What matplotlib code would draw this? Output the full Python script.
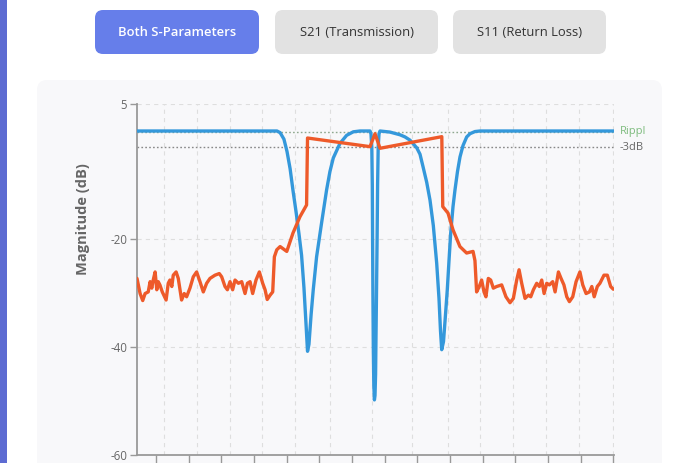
import matplotlib
matplotlib.use("Agg")
import matplotlib.pyplot as plt
from matplotlib.patches import FancyBboxPatch, Rectangle

plt.rcParams['font.family'] = ['Open Sans', 'DejaVu Sans']
plt.rcParams['lines.scale_dashes'] = False

# ---------------- data ----------------
s21_freq = [1.000, 1.013, 1.024, 1.034, 1.047, 1.055, 1.062, 1.068, 1.076, 1.083,
            1.089, 1.096, 1.106, 1.122, 1.131, 1.138, 1.146, 1.152, 1.164, 1.173,
            1.187, 1.198, 1.208, 1.222, 1.236, 1.250, 1.264, 1.278, 1.292, 1.306,
            1.327, 1.345, 1.355, 1.369, 1.379, 1.390, 1.401, 1.411, 1.425, 1.439,
            1.453, 1.463, 1.474, 1.485, 1.499, 1.513, 1.527, 1.537, 1.546, 1.558,
            1.569, 1.576, 1.586, 1.600, 1.628, 1.654, 1.683, 1.711, 1.715, 1.977,
            1.998, 2.019, 2.278, 2.282, 2.304, 2.325, 2.354, 2.382, 2.409, 2.417,
            2.424, 2.435, 2.445, 2.455, 2.463, 2.473, 2.483, 2.494, 2.508, 2.529,
            2.547, 2.564, 2.578, 2.592, 2.602, 2.613, 2.627, 2.641, 2.651, 2.662,
            2.676, 2.687, 2.697, 2.707, 2.718, 2.729, 2.743, 2.753, 2.767, 2.778,
            2.790, 2.802, 2.813, 2.827, 2.841, 2.857, 2.869, 2.883, 2.897, 2.907,
            2.917, 2.930, 2.941, 2.958, 2.972, 2.986, 2.997]
s21_db = [-27.3, -30.1, -31.4, -30.1, -29.8, -27.9, -29.1, -27.6, -26.1, -29.4,
          -27.9, -28.5, -29.8, -31.3, -28.2, -27.6, -28.8, -26.7, -26.1, -27.3,
          -31.3, -30.1, -30.7, -29.1, -27.0, -26.1, -27.9, -29.8, -28.2, -27.3,
          -26.7, -26.4, -27.0, -28.8, -29.4, -27.9, -29.4, -27.6, -28.2, -27.9,
          -30.1, -28.2, -27.9, -30.1, -27.6, -26.1, -28.2, -29.4, -31.2, -30.4,
          -29.8, -23.3, -22.0, -21.4, -22.3, -18.9, -15.9, -13.7, -1.3, -2.9,
          -0.5, -3.2, -1.05, -14.0, -15.2, -18.3, -21.4, -22.6, -22.3, -24.0,
          -29.8, -28.8, -27.6, -29.8, -30.7, -27.3, -27.6, -29.1, -28.8, -28.5,
          -30.7, -31.8, -31.0, -27.6, -25.7, -28.2, -31.0, -30.4, -30.7, -29.4,
          -28.2, -28.8, -27.6, -30.1, -28.2, -28.5, -27.9, -29.8, -26.1, -27.3,
          -28.5, -30.7, -31.6, -30.7, -27.9, -26.1, -28.5, -30.1, -29.8, -28.8,
          -30.7, -28.8, -28.2, -26.7, -26.7, -28.8, -29.3]

s11_freq = [1.000, 1.587, 1.600, 1.616, 1.629, 1.642, 1.654, 1.667, 1.679, 1.690,
            1.700, 1.709, 1.715, 1.721, 1.730, 1.739, 1.753, 1.774, 1.795, 1.809,
            1.823, 1.851, 1.879, 1.907, 1.935, 1.977, 1.981, 1.9845, 1.9866, 1.9878,
            1.9891, 1.9908, 1.9929, 1.9954, 1.9979, 2.0004, 2.0021, 2.0042, 2.0067, 2.0088,
            2.0113, 2.0147, 2.0189, 2.0608, 2.1027, 2.1237, 2.1447, 2.1727, 2.1866, 2.1992,
            2.2147, 2.2285, 2.2424, 2.2566, 2.2662, 2.2725, 2.2776, 2.2851, 2.2935, 2.3010,
            2.3082, 2.3153, 2.3250, 2.3333, 2.3438, 2.3543, 2.3669, 2.3824, 2.3962, 2.4172,
            2.4382, 3.000]
s11_db = [0.0, 0.0, -0.3, -1.5, -3.8, -7.0, -11.0, -15.0, -19.0, -23.0,
          -29.0, -36.0, -40.8, -39.5, -34.0, -29.4, -23.3, -17.0, -10.9, -7.5,
          -5.0, -2.3, -0.8, -0.15, 0.0, 0.0, -0.5, -3.0, -10.0, -20.0,
          -30.0, -40.0, -47.0, -49.8, -49.0, -45.0, -38.0, -30.0, -20.0, -10.0,
          -3.0, -0.5, 0.0, -0.2, -0.7, -1.1, -1.7, -3.1, -4.3, -6.6,
          -9.5, -12.8, -17.5, -24.5, -31.0, -37.0, -40.5, -39.0, -34.0, -29.4,
          -24.0, -18.9, -14.0, -10.9, -7.5, -4.8, -2.7, -1.1, -0.5, -0.1,
          0.0, 0.0]

ripple_db = -0.1
cutoff_db = -3.0
y_ticks = [5, -20, -40, -60]
y_tick_labels = ["5", "-20", "-40", "-60"]
x_ticks = [1.0797, 1.2168, 1.3535, 1.4906, 1.6277, 1.7644, 1.9015, 2.0386,
           2.1753, 2.3124, 2.4495, 2.5862, 2.7233, 2.8604, 2.9975]
x_grid = [1.1145, 1.2516, 1.3891, 1.5262, 1.6637, 1.8080, 1.9841, 2.1551,
          2.3027, 2.4382, 2.5778, 2.7149, 2.8532, 2.9958]
buttons = ["Both S-Parameters", "S21 (Transmission)", "S11 (Return Loss)"]

# ---------------- figure ----------------
W, H = 680, 463
fig = plt.figure(figsize=(W / 100, H / 100), dpi=100)
fig.patch.set_facecolor('white')

bg = fig.add_axes([0, 0, 1, 1], zorder=0)
bg.set_xlim(0, W)
bg.set_ylim(H, 0)
bg.axis('off')

bg.add_patch(Rectangle((0, 0), 7, H, fc='#5d6bd2', ec='none'))
bg.add_patch(FancyBboxPatch((37, 80), 625, 420,
                            boxstyle="round,pad=0,rounding_size=10",
                            fc='#f8f8fa', ec='none'))

btn_boxes = [(95, 259), (275, 438), (453, 606)]
for i, (label, (x0, x1)) in enumerate(zip(buttons, btn_boxes)):
    active = i == 0
    bg.add_patch(FancyBboxPatch((x0, 10), x1 - x0, 44,
                                boxstyle="round,pad=0,rounding_size=8",
                                fc='#667eea' if active else '#e2e2e2', ec='none'))
    bg.text((x0 + x1) / 2, 33, label, ha='center', va='center',
            fontsize=9.4, fontweight='semibold' if active else 'normal',
            color='white' if active else '#333333')

ax = fig.add_axes([137 / W, (H - 455) / H, 477 / W, (455 - 104) / H], zorder=1)
ax.patch.set_alpha(0)
ax.set_xlim(1.0, 3.0)
ax.set_ylim(-60, 5)

for g in x_grid:
    ax.axvline(g, color='#dedede', lw=0.8, ls=(0, (3, 3)), zorder=0)
for g in [5, -20, -40]:
    ax.axhline(g, color='#dedede', lw=0.8, ls=(0, (3, 3)), zorder=0)

ax.axhline(ripple_db, color='#8fa88f', lw=1.0, ls=(0, (1.2, 1.6)), zorder=1)
ax.axhline(cutoff_db, color='#888888', lw=1.0, ls=(0, (1.2, 1.6)), zorder=1)

ax.plot(s11_freq, s11_db, color='#3498db', lw=2.4, solid_joinstyle='round',
        solid_capstyle='round', zorder=3)
ax.plot(s21_freq, s21_db, color='#ee5a2a', lw=2.4, solid_joinstyle='round',
        solid_capstyle='round', zorder=4)

ax.text(1.012, ripple_db, "Rippl", transform=ax.get_yaxis_transform(),
        ha='left', va='center', fontsize=8, color='#7dbb7d')
ax.text(1.012, cutoff_db, "-3dB", transform=ax.get_yaxis_transform(),
        ha='left', va='center', fontsize=8, color='#666666')

ax.set_yticks(y_ticks)
ax.set_yticklabels(y_tick_labels)
ax.set_xticks(x_ticks)
ax.set_xticklabels([])
ax.tick_params(axis='y', colors='#999999', labelcolor='#666666', length=5,
               width=1, labelsize=8.3, pad=2)
ax.tick_params(axis='x', colors='#999999', length=6, width=1)
for s in ['top', 'right']:
    ax.spines[s].set_visible(False)
for s in ['left', 'bottom']:
    ax.spines[s].set_color('#999999')
    ax.spines[s].set_linewidth(1.3)

fig.text(83 / W, 1 - 219 / H, "Magnitude (dB)", rotation=90, ha='center',
         va='center', fontsize=10.5, fontweight='bold', color='#666666')

fig.savefig("out.png", dpi=100, facecolor='white')
